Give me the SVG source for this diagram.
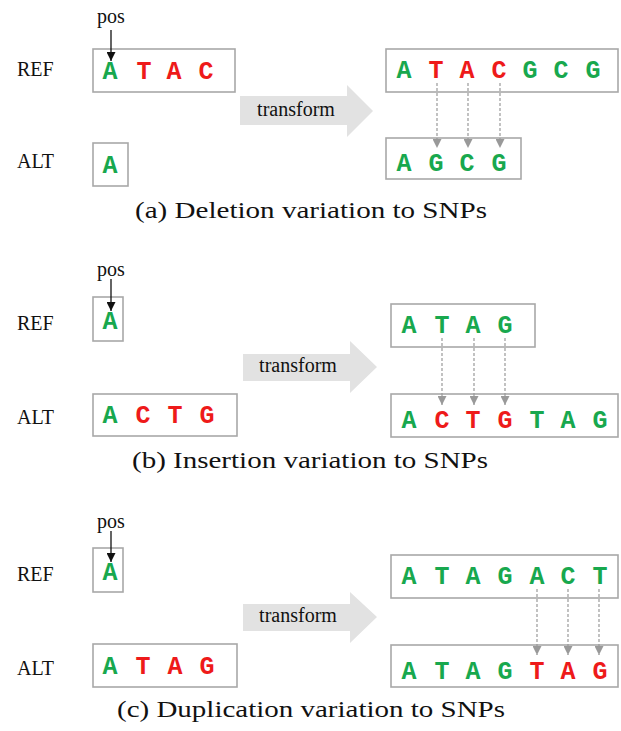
<svg xmlns="http://www.w3.org/2000/svg" width="621" height="731" viewBox="0 0 621 731">
  <style>
    .lbl { font-family: "Liberation Serif", "Times New Roman", serif; font-size: 20px; fill: #111; }
    .cap { font-family: "Liberation Serif", "Times New Roman", serif; font-size: 23px; fill: #111; }
    .seq { font-family: "Liberation Mono", "Courier New", monospace; font-size: 25px; font-weight: bold; text-anchor: middle; }
    .g { fill: #18a84e; }
    .r { fill: #ee1a1a; }
    .box { fill: #fff; stroke: #a8a8a8; stroke-width: 1.6; }
    .big { fill: #e2e2e2; }
    .ptr { stroke: #111; stroke-width: 1.3; fill: none; }
    .map { stroke: #999; stroke-width: 1.2; stroke-dasharray: 3 2; fill: none; }
    .tf { font-family: "Liberation Serif", "Times New Roman", serif; font-size: 20px; fill: #111; text-anchor: middle; }
  </style>
  <defs>
    <marker id="ptrHead" viewBox="0 0 10 10" refX="10" refY="5" markerWidth="9" markerHeight="9" markerUnits="userSpaceOnUse" orient="auto">
      <path d="M0,0 L10,5 L0,10 Z" fill="#111"/>
    </marker>
    <marker id="mapHead" viewBox="0 0 10 10" refX="10" refY="5" markerWidth="9" markerHeight="9" markerUnits="userSpaceOnUse" orient="auto">
      <path d="M0,0 L10,5 L0,10 Z" fill="#999"/>
    </marker>
  </defs>

  <!-- (a) deletion -->
  <g id="a-labels">
    <text class="lbl" x="97" y="23">pos</text>
    <text class="lbl" x="17" y="76">REF</text>
    <text class="lbl" x="17" y="168">ALT</text>
  </g>
  <g id="a-ref">
    <rect class="box" x="93" y="49" width="142" height="43"/>
    <text class="seq" y="79"><tspan class="g" x="110">A</tspan><tspan class="r" x="144">T</tspan><tspan class="r" x="174">A</tspan><tspan class="r" x="206">C</tspan></text>
  </g>
  <g id="a-alt">
    <rect class="box" x="93" y="143" width="35" height="43"/>
    <text class="seq" y="173"><tspan class="g" x="110">A</tspan></text>
  </g>
  <g id="a-transform">
    <path class="big" d="M240,96 L347,96 L347,85 L373,111 L347,137 L347,125 L240,125 Z"/>
    <text class="tf" x="296" y="116">transform</text>
  </g>
  <g id="a-ref-snp">
    <rect class="box" x="386" y="49" width="232" height="43"/>
    <text class="seq" y="78"><tspan class="g" x="404">A</tspan><tspan class="r" x="436">T</tspan><tspan class="r" x="467">A</tspan><tspan class="r" x="499">C</tspan><tspan class="g" x="530">G</tspan><tspan class="g" x="561">C</tspan><tspan class="g" x="593">G</tspan></text>
  </g>
  <g id="a-alt-snp">
    <rect class="box" x="386" y="138" width="135" height="41"/>
    <text class="seq" y="171"><tspan class="g" x="404">A</tspan><tspan class="g" x="436">G</tspan><tspan class="g" x="467">C</tspan><tspan class="g" x="499">G</tspan></text>
  </g>
  <text class="cap" x="135" y="218" textLength="352" lengthAdjust="spacingAndGlyphs">(a) Deletion variation to SNPs</text>

  <!-- (b) insertion -->
  <g id="b-labels">
    <text class="lbl" x="97" y="276">pos</text>
    <text class="lbl" x="17" y="330">REF</text>
    <text class="lbl" x="17" y="424">ALT</text>
  </g>
  <g id="b-ref">
    <rect class="box" x="93" y="297" width="30" height="44"/>
    <text class="seq" y="329"><tspan class="g" x="110">A</tspan></text>
  </g>
  <g id="b-alt">
    <rect class="box" x="93" y="394" width="144" height="42"/>
    <text class="seq" y="423"><tspan class="g" x="110">A</tspan><tspan class="r" x="143">C</tspan><tspan class="r" x="175">T</tspan><tspan class="r" x="207">G</tspan></text>
  </g>
  <g id="b-transform">
    <path class="big" d="M243,354 L350,354 L350,341 L377,367 L350,393 L350,381 L243,381 Z"/>
    <text class="tf" x="298" y="372">transform</text>
  </g>
  <g id="b-ref-snp">
    <rect class="box" x="391" y="304" width="144" height="43"/>
    <text class="seq" y="333"><tspan class="g" x="409">A</tspan><tspan class="g" x="442">T</tspan><tspan class="g" x="473">A</tspan><tspan class="g" x="505">G</tspan></text>
  </g>
  <g id="b-alt-snp">
    <rect class="box" x="391" y="394" width="227" height="43"/>
    <text class="seq" y="428"><tspan class="g" x="409">A</tspan><tspan class="r" x="442">C</tspan><tspan class="r" x="473">T</tspan><tspan class="r" x="505">G</tspan><tspan class="g" x="537">T</tspan><tspan class="g" x="568">A</tspan><tspan class="g" x="600">G</tspan></text>
  </g>
  <text class="cap" x="132" y="468" textLength="356" lengthAdjust="spacingAndGlyphs">(b) Insertion variation to SNPs</text>

  <!-- (c) duplication -->
  <g id="c-labels">
    <text class="lbl" x="97" y="528">pos</text>
    <text class="lbl" x="17" y="581">REF</text>
    <text class="lbl" x="17" y="675">ALT</text>
  </g>
  <g id="c-ref">
    <rect class="box" x="93" y="548" width="30" height="44"/>
    <text class="seq" y="580"><tspan class="g" x="110">A</tspan></text>
  </g>
  <g id="c-alt">
    <rect class="box" x="93" y="644" width="144" height="43"/>
    <text class="seq" y="674"><tspan class="g" x="110">A</tspan><tspan class="r" x="143">T</tspan><tspan class="r" x="175">A</tspan><tspan class="r" x="207">G</tspan></text>
  </g>
  <g id="c-transform">
    <path class="big" d="M243,604 L350,604 L350,592 L377,617 L350,643 L350,631 L243,631 Z"/>
    <text class="tf" x="298" y="622">transform</text>
  </g>
  <g id="c-ref-snp">
    <rect class="box" x="391" y="555" width="227" height="43"/>
    <text class="seq" y="584"><tspan class="g" x="409">A</tspan><tspan class="g" x="442">T</tspan><tspan class="g" x="473">A</tspan><tspan class="g" x="505">G</tspan><tspan class="g" x="537">A</tspan><tspan class="g" x="568">C</tspan><tspan class="g" x="600">T</tspan></text>
  </g>
  <g id="c-alt-snp">
    <rect class="box" x="391" y="645" width="227" height="42"/>
    <text class="seq" y="679"><tspan class="g" x="409">A</tspan><tspan class="g" x="442">T</tspan><tspan class="g" x="473">A</tspan><tspan class="g" x="505">G</tspan><tspan class="r" x="537">T</tspan><tspan class="r" x="568">A</tspan><tspan class="r" x="600">G</tspan></text>
  </g>
  <text class="cap" x="117" y="717" textLength="388" lengthAdjust="spacingAndGlyphs">(c) Duplication variation to SNPs</text>

  <!-- connectors: position pointers and base mappings -->
  <g id="connectors">
    <line class="ptr" x1="111" y1="30" x2="111" y2="61" marker-end="url(#ptrHead)"/>
    <line class="ptr" x1="111" y1="279" x2="111" y2="311" marker-end="url(#ptrHead)"/>
    <line class="ptr" x1="111" y1="531" x2="111" y2="562" marker-end="url(#ptrHead)"/>

    <line class="map" x1="437" y1="83" x2="437" y2="148" marker-end="url(#mapHead)"/>
    <line class="map" x1="468" y1="83" x2="468" y2="148" marker-end="url(#mapHead)"/>
    <line class="map" x1="500" y1="83" x2="500" y2="148" marker-end="url(#mapHead)"/>

    <line class="map" x1="442" y1="338" x2="442" y2="405" marker-end="url(#mapHead)"/>
    <line class="map" x1="474" y1="338" x2="474" y2="405" marker-end="url(#mapHead)"/>
    <line class="map" x1="505" y1="338" x2="505" y2="405" marker-end="url(#mapHead)"/>

    <line class="map" x1="537" y1="589" x2="537" y2="655" marker-end="url(#mapHead)"/>
    <line class="map" x1="568" y1="589" x2="568" y2="655" marker-end="url(#mapHead)"/>
    <line class="map" x1="599" y1="589" x2="599" y2="655" marker-end="url(#mapHead)"/>
  </g>
</svg>
